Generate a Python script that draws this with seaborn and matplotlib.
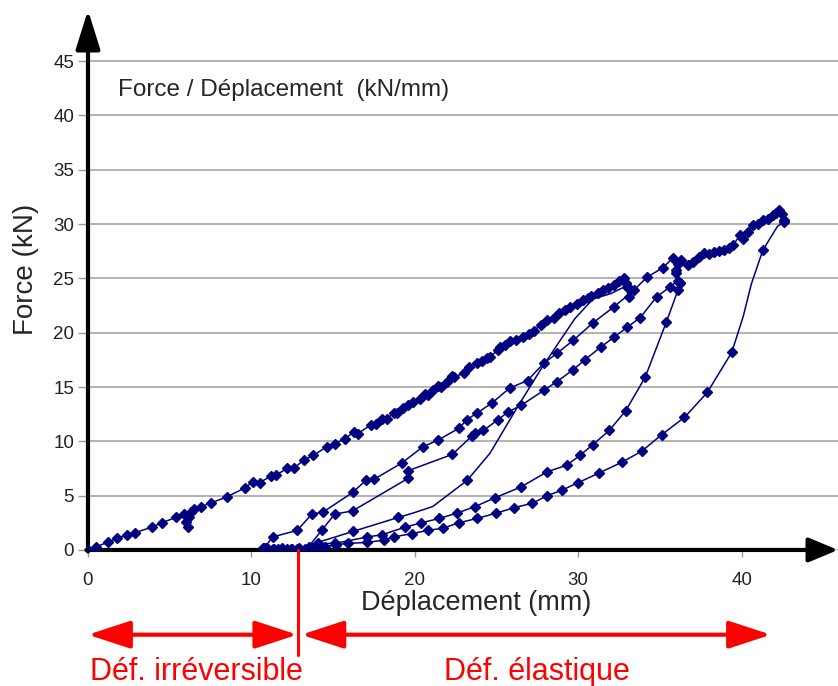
import matplotlib
matplotlib.use('Agg')
import matplotlib.pyplot as plt
import seaborn as sns

# Cycle 1: first loading from zero up to ~33 mm (dense envelope)
load1_x = [0, 0.5, 1.2, 1.8, 2.4, 2.9, 3.9, 4.5, 5.4, 5.9, 6.1, 6.0, 6.2, 6.3, 6.5, 6.9, 7.5, 8.5,
           9.6, 10.1, 10.5, 11.2, 11.5, 12.2, 12.6, 13.2, 13.8, 14.6, 15.1, 15.7, 16.3, 16.5, 17.3,
           17.6, 18.0, 18.3, 18.7, 18.9, 19.3, 19.6, 19.9, 20.3, 20.6, 20.8, 21.1, 21.4, 21.6, 22.0,
           22.3, 22.4, 23.0, 23.3, 23.8, 24.1, 24.4, 24.6, 25.1, 25.2, 25.5, 25.8, 26.2, 26.6, 27.0,
           27.3, 27.7, 28.1, 28.5, 28.8, 29.2, 29.5, 29.9, 30.3, 30.6, 30.8, 31.2, 31.5, 31.8, 32.2,
           32.5, 32.8, 33.0, 33.1, 32.9, 33.2]
load1_y = [0, 0.3, 0.7, 1.1, 1.4, 1.6, 2.1, 2.5, 3.0, 3.3, 2.1, 2.6, 3.0, 3.5, 3.8, 4.0, 4.3, 4.9,
           5.7, 6.3, 6.2, 6.8, 6.9, 7.5, 7.5, 8.3, 8.7, 9.5, 9.8, 10.2, 10.9, 10.7, 11.5,
           11.6, 12.1, 12.1, 12.6, 12.6, 13.1, 13.3, 13.6, 13.9, 14.4, 14.3, 14.7, 15.1, 15.0, 15.5,
           16.0, 15.9, 16.3, 16.8, 17.2, 17.4, 17.7, 17.8, 18.4, 18.7, 18.9, 19.2, 19.3, 19.6, 19.9,
           20.2, 20.7, 21.2, 21.4, 21.8, 22.1, 22.4, 22.6, 23.0, 23.2, 23.4, 23.7, 23.9, 24.1, 24.4,
           24.8, 25.0, 24.2, 23.3, 24.6, 24.0]

# Cycle 1 unloading (thin curve, few markers)
unload1_x = [33.2, 32.0, 30.9, 29.8, 28.9, 27.7, 26.3, 24.6, 23.2, 21.1, 19.9, 19.0, 16.2, 14.5, 13.4, 12.8]
unload1_y = [24.5, 23.6, 23.1, 21.3, 19.3, 16.6, 13.2, 8.9, 6.4, 4.0, 3.4, 3.0, 1.7, 0.9, 0.4, 0.1]
unload1_marks = [8, 11, 12]

# Points resting on the zero-force line
rest_x = [12.8, 12.5, 12.2, 11.9, 11.6, 11.3, 11.0, 10.7, 10.9, 11.4, 11.9, 12.4, 12.9, 13.3, 13.7, 14.1, 14.4]
rest_y = [0.1, 0.05, 0.1, 0.15, 0.1, 0.05, 0.1, 0.15, 0.2, 0.1, 0.05, 0.1, 0.15, 0.1, 0.2, 0.15, 0.1]

# Cycle 2: reloading up to ~36 mm
reloadA_x = [10.8, 11.3, 12.8, 13.7, 14.4, 16.2, 17.0, 17.5, 19.2, 20.5, 21.4, 22.7, 23.2, 23.8, 24.7,
             25.8, 26.9, 27.9, 28.7, 29.7, 30.9, 32.2, 33.4, 34.2, 35.2, 35.8, 36.1, 36.0, 36.2]
reloadA_y = [0.2, 1.2, 1.8, 3.3, 3.5, 5.3, 6.4, 6.5, 8.0, 9.5, 10.1, 11.2, 12.0, 12.6, 13.5,
             14.9, 15.6, 17.2, 18.1, 19.3, 20.9, 22.4, 23.9, 25.1, 26.0, 26.9, 26.3, 25.5, 24.6]

# Cycle 2 unloading
unload2_x = [36.2, 36.1, 35.4, 34.1, 32.9, 31.9, 30.9, 30.1, 29.3, 28.1, 26.5, 24.9, 23.7, 22.6,
             21.5, 20.4, 19.4, 18.0, 17.1, 15.1, 14.1, 13.5]
unload2_y = [24.6, 23.9, 21.0, 15.9, 12.8, 11.0, 9.7, 8.7, 7.8, 7.2, 5.8, 4.8, 4.0, 3.4,
             2.9, 2.5, 2.1, 1.4, 1.2, 0.6, 0.6, 0.2]

# Cycle 3: reloading up to ~42.5 mm
reloadB_x = [13.5, 14.3, 15.1, 16.2, 19.6, 19.6, 22.3, 23.5, 23.7, 24.2, 25.1, 25.7, 26.5, 27.9, 28.7,
             29.7, 30.4, 31.4, 32.2, 33.0, 33.8, 34.8, 35.6, 36.1, 36.0, 36.3, 36.7, 37.0, 37.4, 37.7,
             38.0, 38.3, 38.6, 38.9, 39.2, 39.5, 39.9, 40.1, 40.4, 40.7, 41.0, 41.3, 41.6, 41.9, 42.1,
             42.3, 42.5, 42.6]
reloadB_y = [0.3, 1.8, 3.3, 3.6, 6.6, 7.3, 8.8, 10.5, 10.8, 11.0, 12.0, 12.7, 13.3, 14.7, 15.5,
             16.6, 17.5, 18.7, 19.6, 20.5, 21.4, 23.3, 24.2, 24.8, 25.8, 26.7, 26.2, 26.5, 27.0, 27.3,
             27.2, 27.4, 27.5, 27.6, 27.8, 28.1, 29.0, 28.6, 29.3, 29.9, 30.0, 30.4, 30.5, 30.8, 31.0,
             31.3, 30.9, 30.4]

# Cycle 3 unloading
unload3_x = [42.6, 42.2, 41.3, 40.6, 40.1, 39.4, 37.9, 36.5, 35.1, 33.9, 32.7, 31.3, 30.0, 29.0, 28.1,
             27.2, 26.1, 25.0, 23.8, 22.7, 21.7, 20.8, 19.8, 18.7, 18.1, 17.1, 15.9, 15.2, 14.5, 14.0]
unload3_y = [30.2, 29.8, 27.6, 24.5, 21.5, 18.2, 14.5, 12.2, 10.6, 9.1, 8.1, 7.1, 6.2, 5.5, 5.0,
             4.3, 3.9, 3.4, 2.9, 2.5, 2.0, 1.8, 1.5, 1.2, 0.9, 0.7, 0.6, 0.5, 0.3, 0.1]
unload3_marks = [0, 2] + list(range(5, 30))

yticks = [0, 5, 10, 15, 20, 25, 30, 35, 40, 45]
xticks = [0, 10, 20, 30, 40]
limit_x = 12.86  # boundary between irreversible and elastic deformation

sns.set_style('white')
plt.rcParams['font.family'] = ['Liberation Sans', 'DejaVu Sans']

fig = plt.figure(figsize=(8.38, 6.86), dpi=100)
ax = fig.add_axes([0.105, 0.1983, 0.895, 0.787])

navy = '#000080'
branches = [
    (load1_x, load1_y, None),
    (unload1_x, unload1_y, unload1_marks),
    (rest_x, rest_y, None),
    (reloadA_x, reloadA_y, None),
    (unload2_x, unload2_y, None),
    (reloadB_x, reloadB_y, None),
    (unload3_x, unload3_y, unload3_marks),
]
for bx, by, marks in branches:
    sns.lineplot(x=bx, y=by, ax=ax, sort=False, estimator=None, color=navy, lw=1.1,
                 marker='D', markersize=5.5, markeredgewidth=1.0, markeredgecolor=navy,
                 markevery=marks, zorder=4)

ax.set_xlim(0, 45.9)
ax.set_ylim(0, 49.7)
ax.set_xticks(xticks)
ax.set_yticks(yticks)
for s in ax.spines.values():
    s.set_visible(False)
ax.yaxis.grid(True, color='#a6a6a6', lw=1.2)
ax.xaxis.grid(False)
ax.set_axisbelow(True)
ax.tick_params(axis='x', bottom=True, length=5, width=1, color='#999999', pad=11,
               labelsize=13.5, labelcolor='#222222')
ax.tick_params(axis='y', left=True, length=7, width=1, color='#999999', pad=3,
               labelsize=13.5, labelcolor='#222222')

# axis arrows
ax.annotate('', xy=(0, 49.7), xytext=(0, -0.15),
            arrowprops=dict(arrowstyle='-|>,head_length=2.4,head_width=0.75', mutation_scale=10,
                            lw=3, color='black', shrinkA=0, shrinkB=0),
            annotation_clip=False, zorder=3)
ax.annotate('', xy=(45.9, 0), xytext=(-0.1, 0),
            arrowprops=dict(arrowstyle='-|>,head_length=1.8,head_width=0.75', mutation_scale=10,
                            lw=3, color='black', shrinkA=0, shrinkB=0),
            annotation_clip=False, zorder=3)

ax.set_xlabel('Déplacement (mm)', fontsize=19.5)
ax.xaxis.label.set_va('baseline')
ax.xaxis.set_label_coords(0.517, -0.111)
ax.set_ylabel('Force (kN)', fontsize=20)
ax.yaxis.label.set_va('center')
ax.yaxis.set_label_coords(-0.0827, 0.519)

ax.text(1.84, 41.77, 'Force / Déplacement  (kN/mm)', fontsize=17.5, va='baseline', ha='left')

# red annotations
red = '#ff0000'
ax.plot([limit_x, limit_x], [0, -9.7], color=red, lw=2.2, clip_on=False, zorder=5)
ax.annotate('', xy=(0, -7.8), xytext=(limit_x - 0.05, -7.8),
            arrowprops=dict(arrowstyle='<|-|>,head_length=2.6,head_width=0.85', mutation_scale=10,
                            lw=3, color=red, shrinkA=0, shrinkB=0),
            annotation_clip=False)
ax.annotate('', xy=(41.8, -7.8), xytext=(limit_x + 0.2, -7.8),
            arrowprops=dict(arrowstyle='<|-|>,head_length=2.6,head_width=0.85', mutation_scale=10,
                            lw=3, color=red, shrinkA=0, shrinkB=0),
            annotation_clip=False)
ax.text(6.64, -12.0, 'Déf. irréversible', color=red, fontsize=22, ha='center', va='baseline')
ax.text(27.5, -12.0, 'Déf. élastique', color=red, fontsize=22, ha='center', va='baseline')

fig.savefig('out.png', dpi=100)
